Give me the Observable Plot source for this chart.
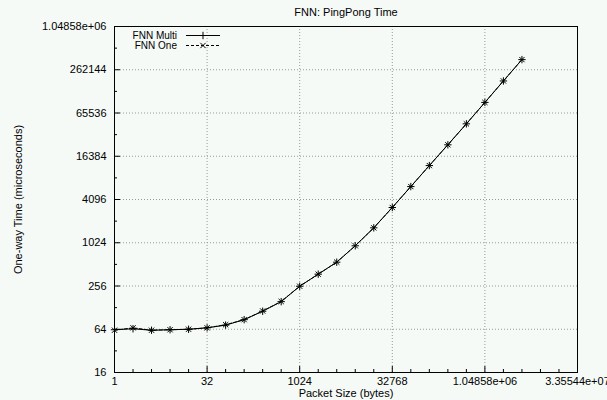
<!DOCTYPE html>
<html><head><meta charset="utf-8">
<script src="https://cdn.jsdelivr.net/npm/d3@7"></script>
<script src="https://cdn.jsdelivr.net/npm/@observablehq/plot@0.6"></script>
<style>
body{margin:0;background:#f5faf7;}
#chart{position:relative;width:607px;height:400px;overflow:hidden;}
</style>
</head><body><div id="chart"></div>
<script>
const sizes = [1,2,4,8,16,32,64,128,256,512,1024,2048,4096,8192,16384,32768,65536,131072,262144,524288,1048576,2097152,4194304];
const multiTimes = [63,65,62,63,64,67,73,87,114,155,254,374,549,929,1652,3170,6200,12150,23650,46300,92000,183000,363000];
const oneTimes   = [62,67,62,63,64,67,74,87,115,156,254,374,550,930,1650,3170,6200,12150,23650,46300,92000,183000,363000];
const seriesNames = ["FNN Multi","FNN One"];
const xTicks = [1,32,1024,32768,1048576,33554432];
const xTickLabels = ["1","32","1024","32768","1.04858e+06","3.35544e+07"];
const xMinorTicks = [2,4,8,16,64,128,256,512,2048,4096,8192,16384,65536,131072,262144,524288,2097152,4194304,8388608,16777216];
const yTicks = [16,64,256,1024,4096,16384,65536,262144,1048576];
const yTickLabels = ["16","64","256","1024","4096","16384","65536","262144","1.04858e+06"];
const yMinorTicks = [32,128,512,2048,8192,32768,131072,524288];
const title = "FNN: PingPong Time";
const xLabel = "Packet Size (bytes)";
const yLabel = "One-way Time (microseconds)";

const multi = sizes.map((s,i)=>({size:s,time:multiTimes[i]}));
const one = sizes.map((s,i)=>({size:s,time:oneTimes[i]}));
const grid = {stroke:"#9a9a9a", strokeOpacity:1, strokeDasharray:"1,2", strokeWidth:1};

const chart = Plot.plot({
  width:607, height:400,
  marginLeft:114, marginRight:30, marginTop:26, marginBottom:28,
  style:{background:"transparent", fontFamily:"'Liberation Sans', Arial, sans-serif", fontSize:"11px", color:"black"},
  x:{type:"log", base:2, domain:[1,2**25]},
  y:{type:"log", base:2, domain:[16,2**20]},
  marks:[
    Plot.gridX(xTicks.slice(1,-1), grid),
    Plot.gridY(yTicks.slice(1,-1), grid),
    Plot.axisX(xMinorTicks,{anchor:"bottom", tickSize:-3, tickFormat:()=>"", label:null}),
    Plot.axisX(xTicks,{anchor:"bottom", tickSize:-6, tickFormat:()=>"", label:null}),
    Plot.axisX(xTicks,{anchor:"bottom", tickSize:0, tickPadding:5, tickFormat:d=>xTickLabels[xTicks.indexOf(d)], label:null, fontSize:11}),
    Plot.axisY(yMinorTicks,{anchor:"left", tickSize:-3, tickFormat:()=>"", label:null}),
    Plot.axisY(yTicks,{anchor:"left", tickSize:-6, tickFormat:()=>"", label:null}),
    Plot.axisY(yTicks,{anchor:"left", tickSize:0, tickPadding:8, tickFormat:d=>yTickLabels[yTicks.indexOf(d)], label:null, fontSize:11}),
    Plot.frame({stroke:"black", strokeWidth:1}),
    Plot.line(one,{x:"size", y:"time", stroke:"black", strokeWidth:1, strokeDasharray:"3,2"}),
    Plot.line(multi,{x:"size", y:"time", stroke:"black", strokeWidth:1}),
    Plot.dot(multi,{x:"size", y:"time", symbol:"plus", r:2.5, stroke:"black", strokeWidth:1}),
    Plot.dot(one,{x:"size", y:"time", symbol:"times", r:2.5, stroke:"black", strokeWidth:1}),
    Plot.text([title],{frameAnchor:"top", dy:-14, lineAnchor:"middle", fontSize:11}),
    Plot.text([xLabel],{frameAnchor:"bottom", dy:21, lineAnchor:"middle", fontSize:11}),
    Plot.text([yLabel],{frameAnchor:"left", dx:-96, rotate:-90, textAnchor:"middle", lineAnchor:"middle", fontSize:11})
  ]
});
document.getElementById("chart").appendChild(chart);

// legend, top-left inside frame
const svg = d3.select(chart);
const leg = svg.append("g").attr("font-family","'Liberation Sans', Arial, sans-serif").attr("font-size",10);
const symPlus = d3.symbol(d3.symbolPlus, Math.PI*2.5*2.5)();
const symTimes = d3.symbol(d3.symbolTimes, Math.PI*2.5*2.5)();
seriesNames.forEach((name,i)=>{
  const yy = 35.5 + i*10;
  leg.append("text").attr("x",177).attr("y",yy).attr("dy","0.32em").attr("text-anchor","end").text(name);
  leg.append("line").attr("x1",186).attr("x2",220).attr("y1",yy).attr("y2",yy)
     .attr("stroke","black").attr("stroke-dasharray", i===0?null:"3,2");
  leg.append("path").attr("d", i===0?symPlus:symTimes).attr("transform",`translate(203,${yy})`)
     .attr("fill","none").attr("stroke","black");
});
</script>
</body></html>
